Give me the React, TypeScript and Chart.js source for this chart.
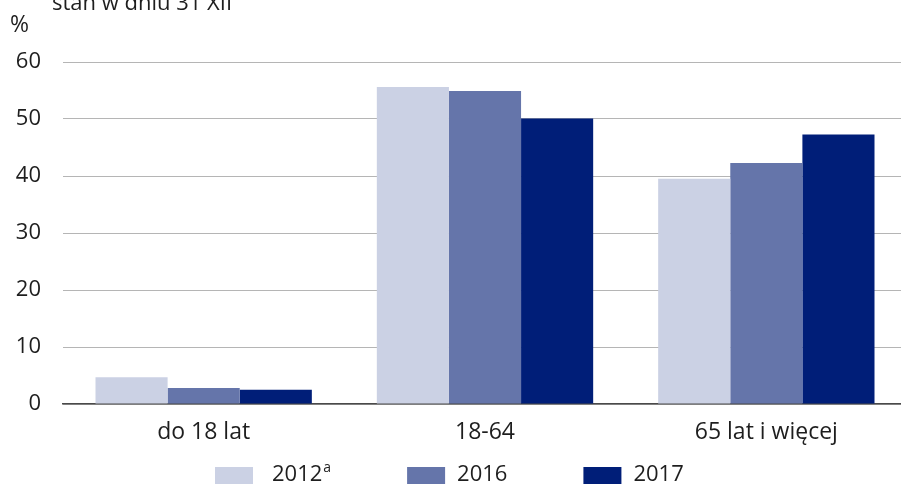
import { useEffect, useRef } from "react";
import { Chart, registerables } from "chart.js";

Chart.register(...registerables);

const categories = ["do 18 lat", "18-64", "65 lat i więcej"];
const seriesLabels = ["2012", "2016", "2017"];
const seriesNotes = ["a", "", ""];
const values2012 = [4.7, 55.6, 39.5];
const values2016 = [2.8, 54.9, 42.3];
const values2017 = [2.5, 50.1, 47.3];
const yTicks = [0, 10, 20, 30, 40, 50, 60];
const subtitle = "stan w dniu 31 XII";
const unitLabel = "%";

const colors = ["#CBD1E4", "#6575AA", "#001E78"];
const FONT = "'Open Sans', 'Noto Sans', sans-serif";
const TEXT = "#1e1e1e";

export default function App() {
  const ref = useRef<HTMLCanvasElement | null>(null);

  useEffect(() => {
    if (!ref.current) return;
    const series = [values2012, values2016, values2017];

    const extras = {
      id: "extras",
      afterDraw(chart: any) {
        const ctx = chart.ctx as CanvasRenderingContext2D;
        ctx.save();
        ctx.fillStyle = TEXT;
        ctx.textBaseline = "alphabetic";
        ctx.textAlign = "left";
        ctx.font = `22px ${FONT}`;
        ctx.fillText(subtitle, 52, 10);
        ctx.font = `23px ${FONT}`;
        ctx.fillText(unitLabel, 10, 32);

        // legend
        let x = 215;
        const boxW = 38;
        const itemGap = 76;
        chart.data.datasets.forEach((ds: any, i: number) => {
          ctx.fillStyle = ds.backgroundColor;
          ctx.fillRect(x, 467, boxW, 20);
          const tx = x + boxW + (seriesNotes[i] ? 19 : 12);
          ctx.fillStyle = TEXT;
          ctx.font = `22px ${FONT}`;
          ctx.fillText(seriesLabels[i], tx, 481);
          let w = ctx.measureText(seriesLabels[i]).width;
          if (seriesNotes[i]) {
            ctx.font = `14px ${FONT}`;
            ctx.fillText(seriesNotes[i], tx + w + 1, 472);
            w += ctx.measureText(seriesNotes[i]).width + 1;
          }
          x = tx + w + itemGap;
        });
        ctx.restore();
      },
    };

    const chart = new Chart(ref.current, {
      type: "bar",
      data: {
        labels: categories,
        datasets: series.map((vals, i) => ({
          label: seriesLabels[i] + seriesNotes[i],
          data: vals,
          backgroundColor: colors[i],
          borderWidth: 0,
          categoryPercentage: 0.769,
          barPercentage: 1,
        })),
      },
      options: {
        responsive: false,
        maintainAspectRatio: false,
        animation: false,
        layout: { padding: { top: 62, left: 0, right: 0, bottom: 0 } },
        plugins: {
          legend: { display: false },
          tooltip: { enabled: false },
          title: { display: false },
        },
        scales: {
          x: {
            grid: { display: false, drawTicks: false },
            border: { display: true, color: "#4a4a4a", width: 1.5 },
            ticks: {
              color: TEXT,
              font: { family: FONT, size: 23 },
              padding: 15,
            },
            afterFit: (s: any) => {
              s.height = 80;
            },
          },
          y: {
            min: 0,
            max: 60,
            afterBuildTicks: (s: any) => {
              s.ticks = yTicks.map((v) => ({ value: v }));
            },
            grid: { color: "#b5b5b5", lineWidth: 1, drawTicks: false },
            border: { display: false },
            ticks: {
              color: TEXT,
              font: { family: FONT, size: 22 },
              padding: 22,
            },
            afterFit: (s: any) => {
              s.width = 63;
            },
          },
        },
      },
      plugins: [extras],
    });
    return () => chart.destroy();
  }, []);

  return (
    <div
      style={{
        position: "fixed",
        left: 0,
        top: 0,
        width: 901,
        height: 484,
        overflow: "hidden",
        background: "#fff",
      }}
    >
      <canvas ref={ref} width={907} height={484} style={{ display: "block" }} />
    </div>
  );
}
